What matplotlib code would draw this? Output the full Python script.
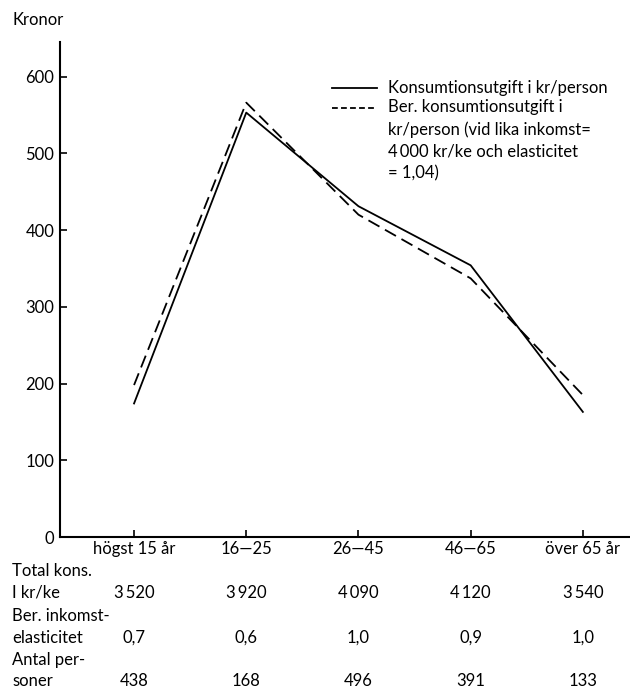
import matplotlib
matplotlib.use("Agg")
import matplotlib.pyplot as plt
from matplotlib.transforms import blended_transform_factory

plt.rcParams['font.family'] = ['Lato', 'DejaVu Sans']

# data
aldersgrupper = ['högst 15 år', '16—25', '26—45', '46—65', 'över 65 år']
konsumtion = [174, 553, 431, 354, 163]
ber_konsumtion = [198, 566, 420, 337, 185]

total_kons = ['3\u2009520', '3\u2009920', '4\u2009090', '4\u2009120', '3\u2009540']
elasticitet = ['0,7', '0,6', '1,0', '0,9', '1,0']
antal_personer = ['438', '168', '496', '391', '133']

W, H = 630, 690
fig = plt.figure(figsize=(W / 100, H / 100), dpi=100)
ax = fig.add_axes([60 / W, 1 - 537 / H, (630 - 60) / W, (537 - 42) / H])

x = list(range(len(aldersgrupper)))
ax.plot(x, konsumtion, color='black', lw=1.3)
ax.plot(x, ber_konsumtion, color='black', lw=1.3, dashes=(7, 3.5))

ax.set_xlim(-0.66, 4.42)
ax.set_ylim(0, 645)
ax.set_yticks([0, 100, 200, 300, 400, 500, 600])
ax.set_xticks(x)
ax.set_xticklabels(aldersgrupper)

for s in ['top', 'right']:
    ax.spines[s].set_visible(False)
for s in ['left', 'bottom']:
    ax.spines[s].set_linewidth(1.5)

fsize = 12

ax.tick_params(axis='y', direction='in', length=5, width=1.2, labelsize=fsize, pad=4)
ax.tick_params(axis='x', direction='in', length=5, width=1.2, labelsize=fsize, pad=3)


def fx(px):
    return px / W


def fy(py):
    return 1 - py / H


fig.text(fx(12), fy(20), 'Kronor', fontsize=fsize, va='center', ha='left')

# legend drawn by hand so the handle sits at the first text line
fig.add_artist(plt.Line2D([fx(332), fx(377)], [fy(88), fy(88)], color='black', lw=1.3,
                          transform=fig.transFigure))
fig.add_artist(plt.Line2D([fx(332), fx(377)], [fy(108), fy(108)], color='black', lw=1.3,
                          dashes=(3.2, 1.8), transform=fig.transFigure))
fig.text(fx(388), fy(88), 'Konsumtionsutgift i kr/person', fontsize=fsize, va='center')
fig.text(fx(388), fy(108) + 0.013,
         'Ber. konsumtionsutgift i\nkr/person (vid lika inkomst=\n4\u2009000 kr/ke och elasticitet\n= 1,04)',
         fontsize=fsize, va='top', linespacing=1.45)

# table under the axis
trans = blended_transform_factory(ax.transData, fig.transFigure)
rader = [
    ('Total kons.', 'I kr/ke', total_kons, 571, 593),
    ('Ber. inkomst-', 'elasticitet', elasticitet, 616, 638),
    ('Antal per-', 'soner', antal_personer, 660, 681),
]
for rubrik1, rubrik2, varden, y1, y2 in rader:
    fig.text(fx(12), fy(y1), rubrik1, fontsize=fsize, va='center', ha='left')
    fig.text(fx(12), fy(y2), rubrik2, fontsize=fsize, va='center', ha='left')
    for xi, v in zip(x, varden):
        ax.text(xi, fy(y2), v, transform=trans, fontsize=fsize, va='center', ha='center')

fig.savefig('out.png', dpi=100, facecolor='white')
